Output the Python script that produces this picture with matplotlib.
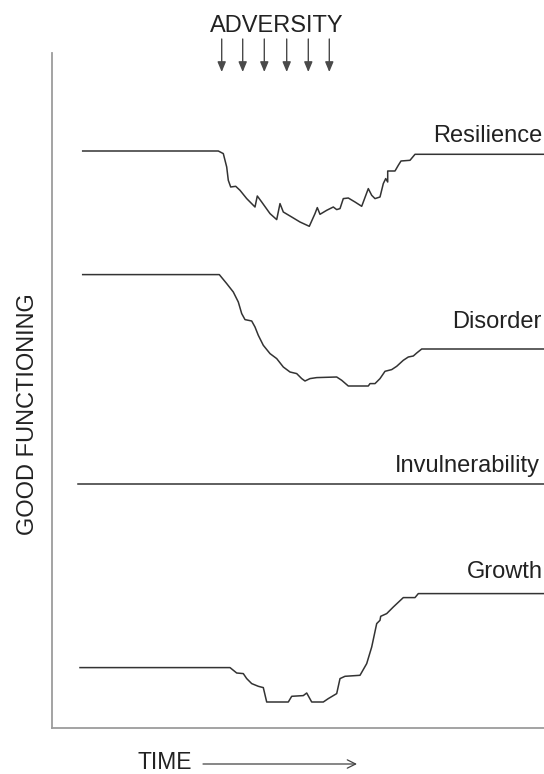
import matplotlib
matplotlib.use('Agg')
import matplotlib.pyplot as plt

plt.rcParams['font.family'] = ['Liberation Sans', 'DejaVu Sans']

# ---- data (time units, functioning level) ----
res_t = [30.7, 166.3, 171.3, 174.7, 176.3, 178.7, 183.7, 188, 194.7, 203, 205.3, 209.7, 218, 224.7,
         228, 231.3, 239.7, 248, 257.3, 263, 265.3, 268, 274.7, 281.3, 284.7, 288, 291.3, 296.3,
         303, 309.7, 316.3, 319.7, 323, 328, 331.3, 333.7, 335.7, 335.7, 343, 346.3, 349, 358,
         363, 491.3]
res_v = [577.3, 577.3, 574.7, 561.3, 548, 541.3, 542, 538, 529.7, 521.3, 532.3, 526.3, 514.7, 508.7,
         524.7, 516.3, 511.3, 506.3, 502, 514.7, 520.7, 514, 518, 521.3, 518.7, 519.7, 529.7, 530.3,
         526.3, 522, 539.7, 533, 529.7, 531.3, 544.7, 549.7, 546.3, 557.3, 557.3, 563, 567.3, 568,
         574, 574]

dis_t = [30.7, 167.3, 174.7, 181.3, 186.3, 189.7, 193, 199.7, 203, 206.3, 211.3, 218, 224.7, 231.3,
         238, 244.7, 249.7, 253, 258, 264.7, 274.7, 284.7, 289.7, 296.3, 316.3, 318, 323, 328, 333,
         339.7, 344.7, 351.3, 356.3, 361.3, 364.7, 369.7, 491.3]
dis_v = [453.7, 453.7, 444.7, 436.3, 426.3, 414.7, 408.7, 407.3, 401.3, 393, 383, 374.7, 369.7, 361.3,
         356.3, 354.7, 349.7, 347.3, 349.7, 350.7, 351, 351.3, 348, 342.3, 342.3, 344.7, 344.7, 349.7,
         357, 358.7, 362, 368, 371.3, 372.3, 375.3, 379.3, 379.3]

inv_t = [26, 492]
inv_v = [244, 244]

gro_t = [28, 178, 184.7, 191.3, 194.7, 199.7, 206.3, 211.3, 214.7, 236.3, 239.7, 251.3, 254.7, 259.7,
         271.3, 276.3, 284.7, 288, 293, 308, 314.7, 319.7, 324.7, 328, 328.7, 334.7, 341.3, 351.3,
         363, 366.3, 491.3]
gro_v = [60.7, 60.7, 55.3, 54.7, 49.7, 44.7, 42, 40.7, 26.3, 26.3, 32, 32.7, 35.3, 26.3,
         26.3, 29.7, 34.7, 49.7, 52, 53, 64.7, 81.3, 104.7, 108, 112, 114.7, 121.3, 130.7,
         130.7, 134.7, 134.7]

adversity_t = [169.7, 190.7, 212.3, 234.7, 256.3, 277.3]

series_labels = ['Resilience', 'Disorder', 'Invulnerability', 'Growth']

# ---- layout ----
W, H = 544, 774
fig = plt.figure(figsize=(W / 100, H / 100), dpi=100)


def fx(x):
    return x / W


def fy(y):
    return 1 - y / H


ax = fig.add_axes([fx(52), fy(728.3), fx(544) - fx(52), fy(52.7) - fy(728.3)])
ax.set_xlim(0, 492)
ax.set_ylim(0, 675.6)
for s in ['top', 'right']:
    ax.spines[s].set_visible(False)
for s in ['left', 'bottom']:
    ax.spines[s].set_color('#9c9c9c')
    ax.spines[s].set_linewidth(1.3)
ax.set_xticks([])
ax.set_yticks([])

line_kw = dict(color='#333333', lw=1.1, solid_joinstyle='round')
for t, v in [(res_t, res_v), (dis_t, dis_v), (inv_t, inv_v), (gro_t, gro_v)]:
    ax.plot(t, v, clip_on=False, **line_kw)

# adversity arrows
for t in adversity_t:
    ax.annotate('', xy=(t, 656.3), xytext=(t, 689.3),
                arrowprops=dict(arrowstyle='-|>,head_length=0.6,head_width=0.25',
                                color='#4a4a4a', lw=1.0, shrinkA=0, shrinkB=0),
                annotation_clip=False)

txt_color = '#222222'
fig.text(fx(277), fy(32), 'ADVERSITY', ha='center', va='baseline', fontsize=17, color=txt_color)
fig.text(fx(28), fy(414), 'GOOD FUNCTIONING', rotation=90, ha='center', va='center',
         fontsize=17, color=txt_color)
fig.text(fx(137), fy(769), 'TIME', ha='left', va='baseline', fontsize=16.5, color=txt_color)
fig.patches  # noqa
ax.annotate('', xy=(fx(357), fy(764)), xytext=(fx(203), fy(764)),
            xycoords='figure fraction', textcoords='figure fraction',
            arrowprops=dict(arrowstyle='->,head_length=0.6,head_width=0.3',
                            color='#444444', lw=0.9, shrinkA=0, shrinkB=0),
            annotation_clip=False)

label_pos = [(542, 141.7), (541.7, 328.3), (540, 472), (543, 578.3)]
for lab, (x, y) in zip(series_labels, label_pos):
    fig.text(fx(x), fy(y), lab, ha='right', va='baseline', fontsize=17, color=txt_color)

fig.savefig('out.png', dpi=100)
